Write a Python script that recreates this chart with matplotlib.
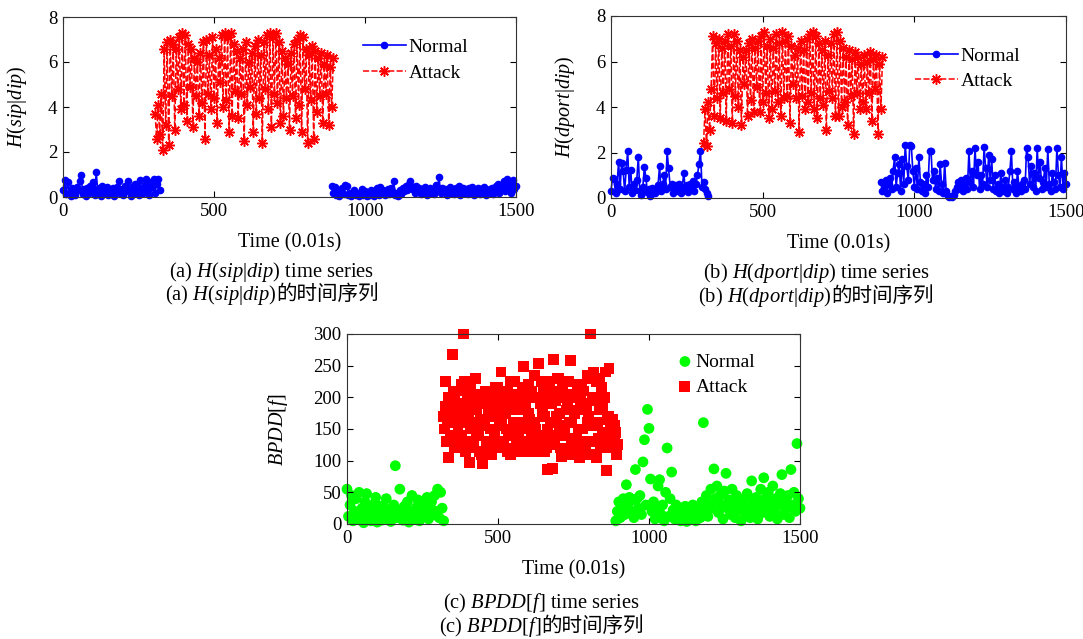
import numpy as np
import matplotlib
matplotlib.use('Agg')
import matplotlib.pyplot as plt
from matplotlib.offsetbox import TextArea, HPacker, AnnotationBbox

plt.rcParams['font.family'] = ['Liberation Serif', 'Noto Sans CJK SC']
plt.rcParams['mathtext.fontset'] = 'custom'
plt.rcParams['mathtext.rm'] = 'Liberation Serif'
plt.rcParams['mathtext.it'] = 'Liberation Serif:italic'

W, H = 1083, 639
STEP = 5       # entropy series: one sample every 5 time units
STEP_C = 2.5   # BPDD attack series is sampled finer

# ---------------- (a) H(sip|dip) ----------------
sip_normal1_start = 0
sip_normal1 = [0.30, 0.75, 0.15, 0.65, 0.20, 0.05, 0.40, 0.25, 0.10, 0.45,
               0.30, 0.70, 1.00, 0.15, 0.35, 0.05, 0.40, 0.20, 0.50, 0.30,
               0.65, 0.10, 1.10, 0.25, 0.40, 0.05, 0.50, 0.20, 0.30, 0.45,
               0.10, 0.35, 0.20, 0.40, 0.05, 0.30, 0.45, 0.70, 0.20, 0.35,
               0.10, 0.50, 0.25, 0.70, 0.30, 0.05, 0.45, 0.20, 0.60, 0.35,
               0.10, 0.75, 0.40, 0.20, 0.55, 0.80, 0.30, 0.10, 0.65, 0.45,
               0.80, 0.20, 0.60, 0.80, 0.30]
sip_normal2_start = 890
sip_normal2 = [0.50, 0.20, 0.45, 0.10, 0.30, 0.05, 0.25, 0.40, 0.15, 0.55,
               0.50, 0.10, 0.20, 0.05, 0.15, 0.30, 0.10, 0.20, 0.05, 0.15,
               0.35, 0.10, 0.25, 0.05, 0.20, 0.10, 0.30, 0.15, 0.05, 0.25,
               0.40, 0.10, 0.45, 0.20, 0.30, 0.10, 0.20, 0.35, 0.15, 0.40,
               0.25, 0.70, 0.10, 0.20, 0.05, 0.30, 0.15, 0.40, 0.25, 0.50,
               0.30, 0.60, 0.70, 0.35, 0.45, 0.20, 0.50, 0.30, 0.40, 0.15,
               0.35, 0.25, 0.45, 0.10, 0.30, 0.40, 0.20, 0.35, 0.15, 0.55,
               0.30, 0.90, 0.20, 0.40, 0.25, 0.35, 0.10, 0.30, 0.45, 0.20,
               0.35, 0.15, 0.40, 0.25, 0.50, 0.10, 0.30, 0.40, 0.20, 0.35,
               0.15, 0.40, 0.25, 0.45, 0.10, 0.30, 0.20, 0.40, 0.15, 0.35,
               0.25, 0.45, 0.10, 0.30, 0.20, 0.35, 0.40, 0.15, 0.30, 0.50,
               0.60, 0.20, 0.35, 0.45, 0.70, 0.25, 0.80, 0.40, 0.60, 0.20,
               0.75, 0.35, 0.50]
sip_attack_start = 305
sip_attack = [3.7, 2.6, 4.1, 2.8, 4.6, 2.1, 6.6, 3.2, 6.9, 2.3,
              7.0, 4.5, 6.8, 3.0, 6.6, 4.8, 7.1, 3.9, 7.3, 4.1,
              7.2, 3.4, 6.8, 4.9, 6.6, 3.1, 6.2, 4.5, 6.0, 3.6,
              6.4, 4.2, 6.9, 2.6, 7.0, 4.6, 6.3, 3.9, 7.1, 4.4,
              6.6, 3.3, 6.2, 5.1, 7.2, 4.0, 7.3, 4.3, 7.1, 2.9,
              7.3, 3.6, 6.8, 4.7, 6.5, 3.5, 6.2, 4.6, 6.6, 2.5,
              6.9, 4.1, 6.0, 4.9, 6.4, 2.9, 6.7, 3.7, 7.0, 4.4,
              6.3, 2.4, 6.9, 4.8, 7.2, 3.9, 7.3, 3.1, 7.1, 4.6,
              7.3, 4.2, 6.9, 3.3, 6.5, 3.6, 6.2, 4.4, 5.9, 3.0,
              6.4, 4.5, 6.8, 3.5, 7.0, 4.1, 7.2, 2.9, 7.1, 4.8,
              6.6, 2.4, 6.3, 4.3, 6.7, 2.6, 6.5, 3.8, 6.2, 4.5,
              6.4, 3.3, 5.9, 4.6, 6.3, 3.2, 5.8, 4.0, 6.2]

# ---------------- (b) H(dport|dip) ----------------
dport_normal1_start = 0
dport_normal1 = [0.30, 0.90, 0.85, 0.20, 0.60, 1.60, 0.40, 1.55, 1.20, 0.30,
                 1.25, 2.05, 0.50, 1.25, 0.20, 0.60, 0.35, 0.80, 1.80, 0.30,
                 0.15, 0.50, 1.35, 0.90, 0.25, 0.40, 0.10, 0.45, 0.30, 0.20,
                 0.40, 0.55, 1.40, 0.30, 0.60, 1.00, 0.40, 2.05, 1.30, 0.50,
                 0.60, 0.20, 0.45, 0.55, 0.30, 0.60, 0.20, 0.50, 1.10, 0.35,
                 0.55, 0.25, 0.60, 0.40, 0.75, 0.30, 0.60, 1.00, 1.50, 2.05,
                 0.50, 0.70, 0.40, 0.20, 0.10]
dport_normal2_start = 890
dport_normal2 = [0.70, 0.30, 0.50, 0.80, 0.20, 0.60, 0.90, 0.40, 1.20, 1.80,
                 0.50, 1.10, 1.50, 0.30, 1.70, 0.60, 2.35, 1.40, 0.80, 2.35,
                 2.30, 1.20, 0.50, 1.30, 0.40, 1.80, 0.70, 0.30, 0.60, 0.20,
                 1.00, 0.50, 2.05, 2.05, 0.80, 1.20, 0.40, 0.90, 0.30, 1.50,
                 0.60, 0.20, 1.55, 0.30, 0.10, 0.05, 0.10, 0.05, 0.15, 0.30,
                 0.50, 0.70, 0.40, 0.80, 0.30, 0.60, 0.90, 0.40, 2.05, 0.70,
                 1.20, 0.50, 2.20, 1.00, 1.60, 0.40, 1.00, 0.60, 2.25, 1.30,
                 0.50, 1.90, 0.80, 1.70, 0.40, 1.00, 0.30, 0.60, 0.20, 1.10,
                 0.50, 0.30, 0.80, 0.20, 0.50, 1.20, 2.05, 0.40, 0.70, 0.20,
                 1.20, 0.50, 0.30, 0.60, 0.80, 0.40, 2.20, 1.80, 0.60, 1.40,
                 0.50, 1.10, 0.30, 2.20, 0.90, 1.60, 0.40, 0.70, 1.30, 0.50,
                 2.15, 0.60, 0.30, 1.10, 0.70, 0.40, 2.20, 1.00, 0.50, 1.80,
                 0.40, 1.10, 0.60]
dport_attack_start = 305
dport_attack = [2.4, 3.9, 2.3, 4.2, 3.0, 4.8, 7.1, 3.6, 6.8, 4.4,
                7.0, 3.5, 6.6, 4.6, 6.9, 3.4, 7.2, 4.8, 6.7, 3.3,
                7.2, 4.5, 6.9, 4.0, 6.5, 3.2, 6.2, 5.0, 6.5, 3.6,
                6.8, 4.3, 7.0, 3.8, 6.6, 4.9, 6.9, 3.8, 7.1, 4.2,
                7.3, 4.6, 6.7, 3.5, 7.0, 3.9, 6.6, 4.7, 7.2, 4.2,
                6.8, 3.6, 7.3, 4.4, 6.9, 4.5, 7.1, 3.3, 6.7, 5.0,
                6.3, 4.4, 6.6, 2.9, 6.9, 4.5, 6.5, 3.9, 7.0, 4.2,
                7.2, 4.6, 7.3, 3.9, 7.1, 3.5, 6.8, 4.4, 6.5, 4.1,
                6.9, 3.0, 6.3, 4.7, 6.8, 4.4, 7.2, 3.6, 7.3, 3.6,
                6.9, 4.0, 6.6, 4.2, 6.2, 3.2, 6.5, 4.5, 6.1, 2.8,
                6.4, 4.6, 6.2, 3.9, 5.9, 4.2, 6.3, 3.9, 6.0, 4.6,
                6.4, 3.4, 6.1, 4.8, 6.3, 2.8, 5.9, 3.9, 6.2]

# ---------------- (c) BPDD[f] ----------------
bpdd_normal1_start = 0
bpdd_normal1 = [55, 12, 30, 45, 5, 20, 40, 8, 50, 15,
                25, 2, 35, 48, 10, 22, 5, 30, 12, 42,
                3, 18, 28, 6, 15, 25, 40, 9, 20, 4,
                14, 30, 92, 10, 22, 55, 18, 6, 28, 12,
                35, 3, 20, 45, 15, 8, 26, 38, 5, 18,
                30, 12, 22, 42, 8, 28, 35, 15, 45, 20,
                55, 10, 50, 25, 5]
bpdd_normal2_start = 890
bpdd_normal2 = [5, 20, 35, 10, 28, 40, 15, 62, 30, 42,
                20, 38, 10, 86, 40, 25, 45, 15, 98, 133,
                30, 181, 151, 71, 20, 35, 8, 25, 60, 70,
                15, 30, 5, 50, 120, 12, 40, 82, 22, 8,
                30, 15, 25, 5, 18, 12, 28, 4, 15, 22,
                8, 30, 14, 5, 25, 18, 10, 35, 160, 20,
                45, 12, 30, 55, 25, 87, 40, 60, 18, 45,
                30, 8, 52, 80, 25, 38, 15, 55, 30, 10,
                45, 22, 35, 5, 28, 40, 15, 48, 25, 10,
                68, 35, 20, 42, 8, 30, 55, 18, 73, 40,
                25, 50, 12, 35, 60, 22, 40, 8, 30, 48,
                78, 15, 38, 25, 45, 10, 86, 30, 50, 20,
                127, 40, 25]
bpdd_attack_start = 320
bpdd_attack = [170, 150, 225, 185, 130, 160, 105, 200, 190, 140, 130, 175, 268, 210, 200, 120, 160, 185, 120, 145,
               210, 130, 175, 220, 140, 190, 300, 160, 225, 115, 185, 205, 130, 170, 97, 150, 215, 195, 160, 125,
               120, 180, 230, 145, 180, 205, 140, 115, 200, 165, 110, 190, 96, 155, 165, 210, 205, 130, 125, 175,
               185, 115, 150, 200, 110, 170, 200, 140, 170, 215, 130, 185, 215, 120, 155, 200, 240, 165, 190, 130,
               120, 205, 175, 150, 210, 115, 140, 185, 110, 225, 195, 150, 160, 120, 225, 180, 130, 205, 180, 140,
               115, 190, 205, 130, 150, 215, 248, 160, 185, 125, 120, 200, 220, 175, 165, 115, 135, 210, 200, 145,
               235, 160, 150, 120, 115, 200, 254, 140, 190, 225, 130, 175, 210, 115, 170, 220, 120, 150, 86, 200,
               225, 135, 160, 190, 88, 210, 260, 125, 195, 170, 140, 230, 230, 155, 175, 120, 107, 200, 215, 140,
               150, 225, 120, 180, 190, 110, 225, 160, 258, 135, 160, 205, 110, 175, 200, 125, 135, 220, 180, 150,
               105, 195, 220, 130, 150, 210, 190, 120, 115, 185, 235, 160, 170, 230, 300, 110, 130, 195, 240, 155,
               200, 110, 105, 225, 160, 135, 230, 180, 120, 215, 185, 140, 145, 200, 240, 125, 85, 165, 170, 245,
               120, 160, 150, 135, 165, 140, 130, 155, 145, 110, 125]

x_ticks = [0, 500, 1000, 1500]
h_ticks = [0, 2, 4, 6, 8]
bpdd_ticks = [0, 50, 100, 150, 200, 250, 300]

TICK_SIZE = 13.5
LABEL_SIZE = 14.5
LEGEND_SIZE = 14
CAPTION_SIZE = 14.8

ASTERISK = (8, 2, 0)   # matlab-like '*' marker


def times(start, vals, step=STEP):
    return start + step * np.arange(len(vals))


def joined(start1, vals1, start2, vals2):
    # two normal segments in one line, broken by a NaN
    x = np.concatenate([times(start1, vals1), [np.nan], times(start2, vals2)])
    y = np.concatenate([vals1, [np.nan], vals2])
    return x, y


def px_axes(fig, left, top, right, bottom):
    return fig.add_axes([left / W, 1 - bottom / H, (right - left) / W, (bottom - top) / H])


def style_axes(ax, ymax, yticks):
    ax.set_xlim(0, 1500)
    ax.set_ylim(0, ymax)
    ax.set_xticks(x_ticks)
    ax.set_yticks(yticks)
    ax.tick_params(direction='in', top=True, right=True, length=4, width=0.8,
                   labelsize=TICK_SIZE, pad=4)
    for sp in ax.spines.values():
        sp.set_linewidth(0.8)
        sp.set_color('#333333')


def caption(fig, xc, yc, label, cjk=False):
    parts = [TextArea(label, textprops=dict(fontsize=CAPTION_SIZE))]
    if cjk:
        parts.append(TextArea('的时间序列', textprops=dict(fontsize=CAPTION_SIZE,
                                                       family='Noto Sans CJK SC')))
    box = HPacker(children=parts, align='baseline', pad=0, sep=0)
    fig.add_artist(AnnotationBbox(box, (xc / W, 1 - yc / H), xycoords='figure fraction',
                                  frameon=False, box_alignment=(0.5, 0.5), pad=0))


def line_panel(ax, n1s, n1, n2s, n2, a_s, a, ylabel, leg_anchor):
    xn, yn = joined(n1s, n1, n2s, n2)
    ax.plot(xn, yn, '-', color=(0, 0, 1), marker='.', markersize=9, lw=1.2,
            label='Normal', clip_on=False)
    ax.plot(times(a_s, a), a, '--', color=(1, 0, 0), marker=ASTERISK, markersize=7.5,
            markeredgewidth=1.1, lw=1.1, dashes=(4, 1.5), label='Attack', clip_on=False)
    style_axes(ax, 8, h_ticks)
    ax.set_ylabel(ylabel, fontsize=LABEL_SIZE)
    ax.yaxis.set_label_coords(-0.075, 0.5)
    ax.set_xlabel('Time (0.01s)', fontsize=LABEL_SIZE, va='baseline')
    ax.legend(loc='upper left', bbox_to_anchor=leg_anchor, frameon=False,
              fontsize=LEGEND_SIZE, handlelength=2.2, handletextpad=0.15,
              labelspacing=0.4, borderpad=0, borderaxespad=0)


fig = plt.figure(figsize=(W / 100, H / 100), dpi=100)

# (a)
ax_a = px_axes(fig, 63, 17, 516, 197)
line_panel(ax_a, sip_normal1_start, sip_normal1, sip_normal2_start, sip_normal2,
           sip_attack_start, sip_attack,
           r'$\mathit{H}$($\mathit{sip}$|$\mathit{dip}$)', (0.662, 0.88))
ax_a.xaxis.set_label_coords(0.5, -0.278)

# (b)
ax_b = px_axes(fig, 611, 16, 1066, 198)
line_panel(ax_b, dport_normal1_start, dport_normal1, dport_normal2_start, dport_normal2,
           dport_attack_start, dport_attack,
           r'$\mathit{H}$($\mathit{dport}$|$\mathit{dip}$)', (0.668, 0.828))
ax_b.xaxis.set_label_coords(0.5, -0.275)

# (c)
ax_c = px_axes(fig, 347, 334, 800, 524)
ax_c.scatter(np.concatenate([times(bpdd_normal1_start, bpdd_normal1),
                             times(bpdd_normal2_start, bpdd_normal2)]),
             np.concatenate([bpdd_normal1, bpdd_normal2]),
             s=60, marker='o', color=(0, 1, 0), edgecolors='none', label='Normal', clip_on=False)
ax_c.scatter(times(bpdd_attack_start, bpdd_attack, STEP_C), bpdd_attack,
             s=62, marker='s', color=(1, 0, 0), edgecolors='none', label='Attack', clip_on=False)
style_axes(ax_c, 300, bpdd_ticks)
ax_c.set_ylabel(r'$\mathit{BPDD}$[$\mathit{f}$]', fontsize=LABEL_SIZE)
ax_c.yaxis.set_label_coords(-0.126, 0.5)
ax_c.set_xlabel('Time (0.01s)', fontsize=LABEL_SIZE, va='baseline')
ax_c.xaxis.set_label_coords(0.5, -0.268)
ax_c.legend(loc='upper left', bbox_to_anchor=(0.731, 0.90), frameon=False,
            fontsize=LEGEND_SIZE, handlelength=0.7, handletextpad=0.2,
            labelspacing=0.4, borderpad=0, borderaxespad=0, scatterpoints=1)

# captions
caption(fig, 272, 272, r'(a) $\mathit{H}$($\mathit{sip}$|$\mathit{dip}$) time series')
caption(fig, 272, 295, r'(a) $\mathit{H}$($\mathit{sip}$|$\mathit{dip}$)', cjk=True)
caption(fig, 816, 273, r'(b) $\mathit{H}$($\mathit{dport}$|$\mathit{dip}$) time series')
caption(fig, 816, 297, r'(b) $\mathit{H}$($\mathit{dport}$|$\mathit{dip}$)', cjk=True)
caption(fig, 541, 603, r'(c) $\mathit{BPDD}$[$\mathit{f}$] time series')
caption(fig, 541, 627, r'(c) $\mathit{BPDD}$[$\mathit{f}$]', cjk=True)

fig.savefig('out.png', dpi=100)
